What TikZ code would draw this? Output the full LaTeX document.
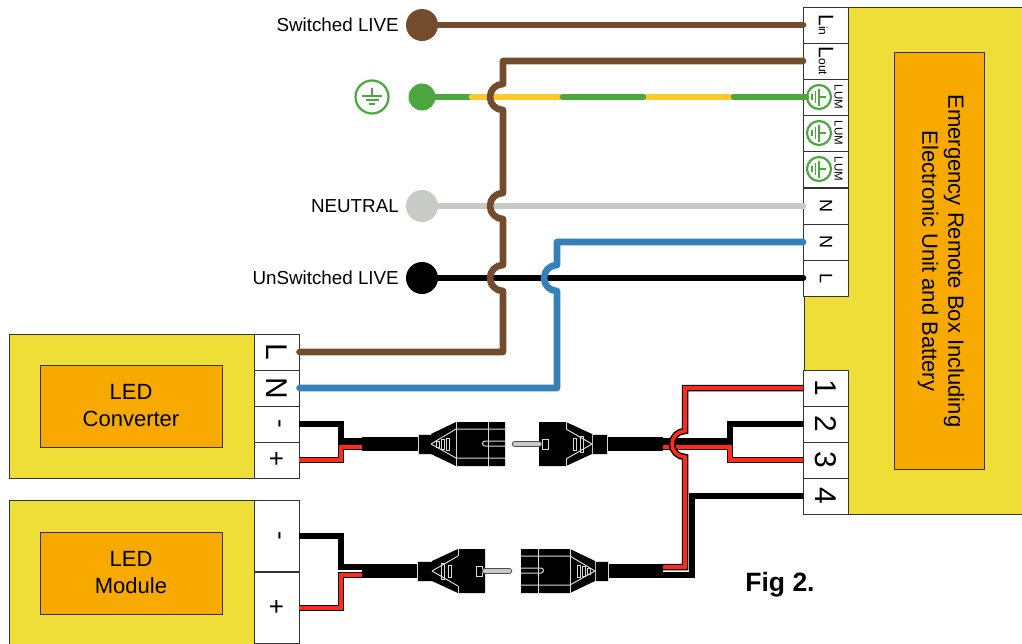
\documentclass[tikz,border=0pt]{standalone}
\usepackage{fontspec}
\usepackage{graphicx}
\setmainfont{Liberation Sans}
\definecolor{boxyellow}{HTML}{F0DE38}
\definecolor{boxorange}{HTML}{F8A900}
\definecolor{wbrown}{HTML}{734C2E}
\definecolor{wgreen}{HTML}{4AA83E}
\definecolor{wyellow}{HTML}{FFC82C}
\definecolor{wgrey}{HTML}{C8CAC8}
\definecolor{wblue}{HTML}{3480B9}
\definecolor{wred}{HTML}{FF2A1A}
\definecolor{edge}{HTML}{333333}
\newcommand{\rt}[2]{\rotatebox{-90}{\fontsize{#1}{#1}\selectfont #2}}
\tikzset{
  x=1pt,y=-1pt,
  yellowbox/.style={draw=edge,line width=0.9pt,fill=boxyellow},
  orangebox/.style={draw=edge,line width=0.9pt,fill=boxorange,inner sep=0pt,align=center,font=\fontsize{22}{27}\selectfont},
  term/.style={draw=edge,line width=0.9pt,fill=white,inner sep=0pt,minimum width=45pt,minimum height=36pt},
  tallterm/.style={term,minimum height=71.5pt},
  lbl/.style={anchor=east,inner sep=0pt,font=\fontsize{18.8}{24}\selectfont},
  dot/.style={circle,inner sep=0pt,minimum size=#1},
  wire/.style={line width=6.6pt,line cap=round,line join=round},
  thinblack/.style={line width=5.5pt,line join=miter,black},
  redback/.style={line width=6.5pt,line join=miter,black},
  redfront/.style={line width=3.6pt,line join=miter,wred},
  cable/.style={line width=14pt,black},
  earthc/.style={circle,draw=wgreen,line width=2.2pt,fill=white,inner sep=0pt,minimum size=#1},
  pics/groundsym/.style={code={
    \draw[wgreen,line width=1.7pt] (0,-8) -- (0,0);
    \draw[wgreen,line width=1.7pt] (-10,0) -- (10,0);
    \draw[wgreen,line width=1.7pt] (-6.5,4) -- (6.5,4);
    \draw[wgreen,line width=1.7pt] (-3,8) -- (3,8);
  }},
  plugline/.style={draw=black!15,line width=1pt},
  pics/plugsocket/.style={code={
    \fill[black] (0,-10) rectangle (13,10);
    \draw[plugline] (0,-10) rectangle (13,10);
    \fill[black] (13,-10) -- (38,-22) -- (87,-22) -- (87,22) -- (38,22) -- (13,10) -- cycle;
    \draw[plugline] (13,0) -- (38,-15) -- (87,-15);
    \draw[plugline] (13,0) -- (38,14) -- (87,14);
    \draw[plugline] (38,-22) -- (38,22) (70,-22) -- (70,22);
    \draw[plugline] (87,-3) -- (67,-3) arc[start angle=90,end angle=270,radius=2.5pt] -- (87,2);
    \draw[plugline] (18,-3) rectangle (21,3) (23,-5) rectangle (26,5) (28,-6) rectangle (31,6);
  }},
  pics/plugpin/.style={code={
    \fill[black] (0,-10) rectangle (15,10);
    \draw[plugline] (0,-10) rectangle (15,10);
    \fill[black] (15,-10) -- (41,-22) -- (68,-22) -- (68,22) -- (41,22) -- (15,10) -- cycle;
    \draw[plugline] (15,0) -- (41,-15) (15,0) -- (41,15);
    \draw[plugline] (41,-22) -- (41,-15) (41,15) -- (41,22);
    \draw[plugline] (24,-8) rectangle (27,8) (31,-6) rectangle (34,6);
    \draw[plugline] (59,-5) rectangle (65,5);
    \draw[black!70,line width=6.5pt,line cap=round] (68,0) -- (92,0);
    \draw[wgrey,line width=4.5pt,line cap=round] (68,0) -- (92,0);
  }}
}
\begin{document}
\begin{tikzpicture}
\useasboundingbox (0,0) rectangle (1022,643);
% right unit
\draw[yellowbox] (1023,7) -- (804,7) -- (804,514) -- (1023,514);
\node[term] (Lin) at (826,25) {\rotatebox{-90}{\fontsize{21}{21}\selectfont L\fontsize{12}{12}\selectfont in}};
\node[term] (Lout) at (826,61) {\rotatebox{-90}{\fontsize{21}{21}\selectfont L\fontsize{12}{12}\selectfont out}};
\node[term] (Lum1) at (826,97) {};
\node[term] (Lum2) at (826,133) {};
\node[term] (Lum3) at (826,169) {};
\node[term] (Nin) at (826,206) {\rt{18}{N}};
\node[term] (Nout) at (826,242) {\rt{18}{N}};
\node[term] (Lsw) at (826,278) {\rt{18}{L}};
\node[term] (T1) at (826,388) {\rt{30}{1}};
\node[term] (T2) at (826,424) {\rt{30}{2}};
\node[term] (T3) at (826,460) {\rt{30}{3}};
\node[term] (T4) at (826,496) {\rt{30}{4}};
\foreach \n/\yy in {a/97,b/133,c/169}{
  \node[inner sep=0pt] (lum\n) at (838.5,\yy) {\rt{11.5}{LUM}};
  \node[earthc=24pt] (E\n) at (819,\yy) {};
  \pic[rotate=-90,scale=0.85] at (819,\yy) {groundsym};
}
\node[draw=edge,line width=0.9pt,fill=boxorange,minimum width=90pt,minimum height=417pt,inner sep=0pt] (unit) at (939,260.5) {};
\node[inner sep=0pt,rotate=-90,align=center,font=\fontsize{22}{26}\selectfont] (unitlabel) at (941,261) {Emergency Remote Box Including\\Electronic Unit and Battery};
% LED converter
\draw[yellowbox] (9,334) rectangle (254,478);
\node[orangebox,minimum width=182pt,minimum height=82pt] (conv) at (131,406) {LED\\Converter};
\node[term] (CL) at (276.5,352) {\rt{30}{L}};
\node[term] (CN) at (276.5,388) {\rt{30}{N}};
\node[term] (CM) at (276.5,424) {\rt{26}{-}};
\node[term] (CP) at (276.5,460) {\fontsize{26}{26}\selectfont +};
% LED module
\draw[yellowbox] (9,500) rectangle (254,644);
\node[orangebox,minimum width=182pt,minimum height=82pt] (mod) at (131,573) {LED\\Module};
\node[tallterm] (MM) at (276.5,536) {\rt{26}{-}};
\node[tallterm] (MP) at (276.5,608) {\fontsize{26}{26}\selectfont +};
% mains side labels and dots
\node[dot=32pt,fill=wbrown] (SL) at (422,25) {};
\node[lbl] (SLt) at (399,25) {Switched LIVE};
\node[dot=27pt,fill=wgreen] (EA) at (422,97) {};
\node[earthc=33pt] (EG) at (372,97) {};
\pic at (372,96) {groundsym};
\node[dot=32pt,fill=wgrey] (NE) at (422,206) {};
\node[lbl] (NEt) at (399,206) {NEUTRAL};
\node[dot=32pt,fill=black] (UL) at (422,278) {};
\node[lbl] (ULt) at (399,278) {UnSwitched LIVE};
\coordinate (g1) at (472,97);
\coordinate (g2) at (563,97);
\coordinate (g3) at (643,97);
\coordinate (g4) at (734,97);
% mains wires
\draw[wire,wbrown] (SL) -- (Lin.west);
\draw[wire,wgreen] (EA) -- (g1);
\draw[wire,wyellow] (g1) -- (g4);
\draw[wire,wgreen] (g2) -- (g3);
\draw[wire,wgreen] (g4) -- (Ea.west);
\draw[wire,wgrey] (NE) -- (Nin.west);
\draw[wire,black] (UL) -- (Lsw.west);
\draw[wire,wblue] (Nout.west) -- (557,242) -- (557,265) arc[start angle=90,end angle=270,radius=13pt] -- (557,388) -- (CN.east);
\draw[wire,wbrown] (Lout.west) -- (503,61) -- (503,84) arc[start angle=90,end angle=270,radius=13pt] -- (503,193) arc[start angle=90,end angle=270,radius=13pt] -- (503,265) arc[start angle=90,end angle=270,radius=13pt] -- (503,352) -- (CL.east);
% low voltage: converter loop
\coordinate (c1a) at (362,444);
\coordinate (c1b) at (418,444);
\coordinate (c1c) at (607,444);
\coordinate (c1d) at (663,444);
\coordinate (c2a) at (362,571);
\coordinate (c2b) at (417,571);
\coordinate (c2c) at (608,571);
\coordinate (c2d) at (663,571);
\draw[thinblack] (CM.east) -- (341,424) -- (341,441) -- (362,441);
\draw[redback] (CP.east) -- (341,460) -- (341,447) -- (362,447);
\draw[redfront] (CP.east) -- (341,460) -- (341,447) -- (362,447);
\draw[thinblack] (MM.east) -- (341,536) -- (341,567) -- (362,567);
\draw[redback] (MP.east) -- (341,608) -- (341,575) -- (362,575);
\draw[redfront] (MP.east) -- (341,608) -- (341,575) -- (362,575);
\draw[cable] (c1a) -- (c1b);
\draw[cable] (c1c) -- (c1d);
\draw[cable] (c2a) -- (c2b);
\draw[cable] (c2c) -- (c2d);
\pic at (418,444) {plugsocket};
\pic[xscale=-1] at (607,444) {plugpin};
\pic at (417,571) {plugpin};
\pic[xscale=-1] at (608,571) {plugsocket};
\draw[thinblack] (663,441) -- (730,441) -- (730,424) -- (T2.west);
\draw[redback] (663,447) -- (730,447) -- (730,460) -- (T3.west);
\draw[redfront] (663,447) -- (730,447) -- (730,460) -- (T3.west);
\draw[thinblack] (663,575) -- (692,575) -- (692,496) -- (T4.west);
\draw[redback] (T1.west) -- (685,388) -- (685,431) arc[start angle=90,end angle=270,radius=13pt] -- (685,567) -- (663,567);
\draw[redfront] (T1.west) -- (685,388) -- (685,431) arc[start angle=90,end angle=270,radius=13pt] -- (685,567) -- (663,567);
\node[inner sep=0pt,font=\fontsize{26.5}{26.5}\selectfont\bfseries] (fig) at (780,585) {Fig 2.};
\end{tikzpicture}
\end{document}
